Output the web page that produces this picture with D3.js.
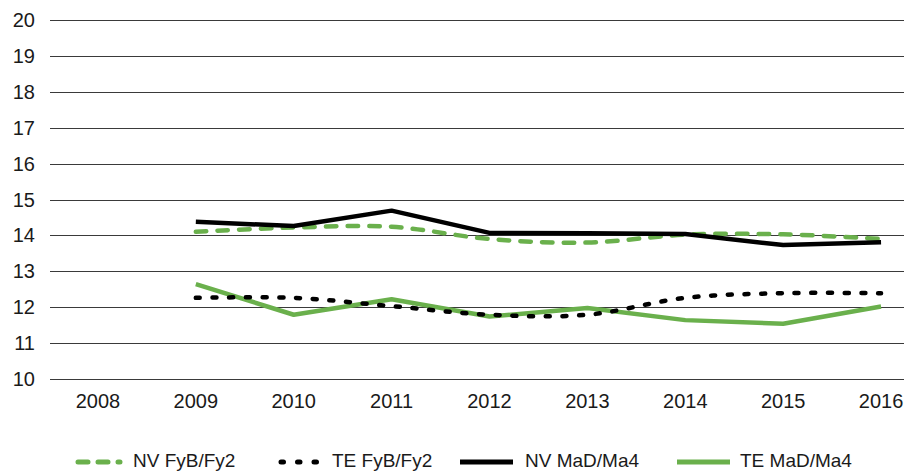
<!DOCTYPE html>
<meta charset="utf-8">
<style>
body { margin: 0; background: #fff; }
text { font-family: "Liberation Sans", Arial, sans-serif; fill: #1a1a1a; }
</style>
<body>
<script src="https://cdn.jsdelivr.net/npm/d3@7"></script>
<script>
// data
var years = ["2008","2009","2010","2011","2012","2013","2014","2015","2016"];
var yTicks = [10,11,12,13,14,15,16,17,18,19,20];
var nvFyB = [null, 14.10, 14.22, 14.24, 13.90, 13.80, 14.02, 14.03, 13.90];
var teFyB = [null, 12.26, 12.26, 12.03, 11.79, 11.79, 12.26, 12.39, 12.39];
var nvMaD = [null, 14.38, 14.26, 14.69, 14.07, 14.06, 14.04, 13.73, 13.81];
var teMaD = [null, 12.64, 11.79, 12.22, 11.74, 11.98, 11.64, 11.54, 12.02];
var seriesNames = ["NV FyB/Fy2", "TE FyB/Fy2", "NV MaD/Ma4", "TE MaD/Ma4"];

var width = 904, height = 471;
var green = "#6ab04c";

var svg = d3.select("body").append("svg")
  .attr("width", width)
  .attr("height", height);

var x = d3.scaleBand().domain(years).range([49, 930]);
var y = d3.scaleLinear().domain([10, 20]).range([379, 20]);

// gridlines
svg.append("g").selectAll("line")
  .data(yTicks).enter().append("line")
  .attr("x1", 50).attr("x2", width)
  .attr("y1", function(d){ return Math.round(y(d)) + 0.5; })
  .attr("y2", function(d){ return Math.round(y(d)) + 0.5; })
  .attr("stroke", "#3a3a3a").attr("stroke-width", 1);

// y labels
svg.append("g").selectAll("text")
  .data(yTicks).enter().append("text")
  .attr("x", 35).attr("y", function(d){ return y(d) + 7; })
  .attr("text-anchor", "end")
  .attr("font-size", 20)
  .text(function(d){ return d; });

// x labels
svg.append("g").selectAll("text")
  .data(years).enter().append("text")
  .attr("x", function(d){ return x(d) + x.bandwidth()/2; })
  .attr("y", 408)
  .attr("text-anchor", "middle")
  .attr("font-size", 20)
  .text(function(d){ return d; });

var styles = [
  {vals: nvFyB, color: green, dash: "10.5,11.2", cap: "round", curve: d3.curveCatmullRom},
  {vals: teFyB, color: "#000", dash: "4,12.7", cap: "round", curve: d3.curveCatmullRom},
  {vals: nvMaD, color: "#000", dash: null, cap: "butt", curve: d3.curveLinear},
  {vals: teMaD, color: green, dash: null, cap: "butt", curve: d3.curveLinear}
];

// draw order: solid green first, then others
[3, 1, 0, 2].forEach(function(i){
  var s = styles[i];
  var pts = years.map(function(yr, j){ return [yr, s.vals[j]]; })
    .filter(function(p){ return p[1] != null; });
  var line = d3.line()
    .x(function(p){ return x(p[0]) + x.bandwidth()/2; })
    .y(function(p){ return y(p[1]); })
    .curve(s.curve);
  svg.append("path")
    .attr("d", line(pts))
    .attr("fill", "none")
    .attr("stroke", s.color)
    .attr("stroke-width", 4.5)
    .attr("stroke-linecap", s.cap)
    .attr("stroke-linejoin", "round")
    .attr("stroke-dasharray", s.dash);
});

// legend
var legX = [75, 278, 460, 677];
var legTextX = [133, 332, 525, 740];
var legY = 462;
var leg = svg.append("g");
styles.forEach(function(s, i){
  var sw = s.dash ? (i == 0 ? 45 : 40) : 53;
  leg.append("line")
    .attr("x1", legX[i] + (s.dash ? 3 : 0)).attr("x2", legX[i] + sw)
    .attr("y1", legY).attr("y2", legY)
    .attr("stroke", s.color)
    .attr("stroke-width", 5)
    .attr("stroke-linecap", s.cap)
    .attr("stroke-dasharray", i == 0 ? "10,10" : (i == 1 ? "2.5,14" : null));
  leg.append("text")
    .attr("x", legTextX[i]).attr("y", legY + 5)
    .attr("font-size", 19)
    .text(seriesNames[i]);
});
</script>
</body>
